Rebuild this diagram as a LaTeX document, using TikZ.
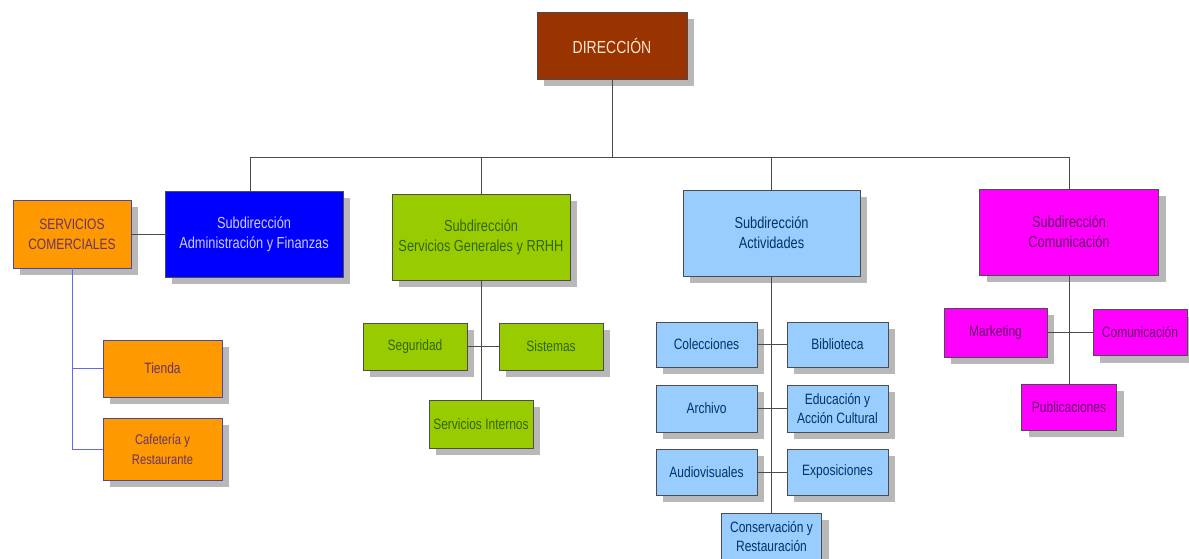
\documentclass[tikz,border=0pt]{standalone}
\usepackage{fontspec}
\setmainfont[FakeStretch=0.8]{Liberation Sans}
\usetikzlibrary{shadows}
\definecolor{cDir}{HTML}{993300}
\definecolor{cDirT}{HTML}{FFE6D0}
\definecolor{cAdm}{HTML}{0000FF}
\definecolor{cAdmT}{HTML}{CCCCFF}
\definecolor{cOra}{HTML}{FF9900}
\definecolor{cOraT}{HTML}{663366}
\definecolor{cGre}{HTML}{99CC00}
\definecolor{cGreT}{HTML}{336600}
\definecolor{cLbl}{HTML}{99CCFF}
\definecolor{cLblT}{HTML}{003366}
\definecolor{cMag}{HTML}{FF00FF}
\definecolor{cMagT}{HTML}{660066}
\definecolor{cLine}{HTML}{4A4A4A}
\definecolor{cPur}{HTML}{6666EE}
\definecolor{cShad}{HTML}{B8B8B8}
\tikzset{
  box/.style={draw=#1, line width=0.9pt, align=center, inner sep=0pt,
    drop shadow={shadow xshift=7pt, shadow yshift=-7pt, fill=cShad, opacity=1}},
  sz/.style 2 args={minimum width=#1pt, minimum height=#2pt},
  big/.style={font=\fontsize{16}{20}\selectfont},
  small/.style={font=\fontsize{15}{19}\selectfont},
  dirbox/.style={box=black!70, fill=cDir, text=cDirT, font=\fontsize{17.5}{20}\selectfont},
  admbox/.style={box=black!70, fill=cAdm, text=cAdmT, big},
  orabox/.style={box=cPur!70!black, fill=cOra, text=cOraT, small},
  grebox/.style={box=black!70, fill=cGre, text=cGreT, big},
  lblbox/.style={box=black!70, fill=cLbl, text=cLblT, big},
  magbox/.style={box=black!70, fill=cMag, text=cMagT, big},
  conn/.style={draw=cLine, line width=0.9pt},
  pconn/.style={draw=cPur, line width=0.9pt}
}
\begin{document}
\begin{tikzpicture}[x=1pt,y=-1pt]
\useasboundingbox[fill=white] (0,0) rectangle (1189,559);
% top
\node[dirbox, sz={150}{67}] (dir) at (612,45.5) {DIRECCIÓN};
% level 2
\node[orabox, sz={118}{68}, font=\fontsize{15}{20}\selectfont] (serv) at (72,234) {SERVICIOS\\COMERCIALES};
\node[admbox, sz={178}{86}] (adm) at (254,234) {Subdirección\\Administración y Finanzas};
\node[grebox, sz={178}{86}] (gen) at (481,237) {Subdirección\\Servicios Generales y RRHH};
\node[lblbox, sz={177}{86}] (act) at (771.5,233) {Subdirección\\Actividades};
\node[magbox, sz={179}{86}] (com) at (1069,232) {Subdirección\\Comunicación};
% servicios comerciales
\node[orabox, sz={119}{57}] (tienda) at (162.5,368.5) {Tienda};
\node[orabox, sz={119}{62}, font=\fontsize{14}{20}\selectfont] (cafe) at (162.5,449) {Cafetería y\\Restaurante};
% servicios generales
\node[grebox, sz={104}{47}, small] (seg) at (415,346.5) {Seguridad};
\node[grebox, sz={104}{47}, small] (sis) at (551,346.5) {Sistemas};
\node[grebox, sz={104}{48}, small] (int) at (481,424) {Servicios Internos};
% actividades
\node[lblbox, sz={101}{45}, small] (col) at (706.5,344.5) {Colecciones};
\node[lblbox, sz={101}{45}, small] (bib) at (837.5,344.5) {Biblioteca};
\node[lblbox, sz={101}{47}, small] (arc) at (706.5,408.5) {Archivo};
\node[lblbox, sz={101}{47}, small] (edu) at (837.5,408.5) {Educación y\\Acción Cultural};
\node[lblbox, sz={101}{46}, small] (aud) at (706.5,472) {Audiovisuales};
\node[lblbox, sz={101}{46}, small] (exp) at (837.5,472) {Exposiciones};
\node[lblbox, sz={100}{48}, small] (con) at (771.5,537) {Conservación y\\Restauración};
% comunicacion
\node[magbox, sz={103}{49}, small] (mkt) at (995.5,332.5) {Marketing};
\node[magbox, sz={94}{46}, small] (com2) at (1140,332.5) {Comunicación};
\node[magbox, sz={95}{46}, small] (pub) at (1069,407) {Publicaciones};
% connectors
\coordinate (barL) at (250,157);
\coordinate (barR) at (1069,157);
\coordinate (b2) at (481,157);
\coordinate (b3) at (771.5,157);
\coordinate (b0) at (612,157);
\draw[conn] (dir.south) -- (b0);
\draw[conn] (barL) -- (barR);
\draw[conn] (barL) -- (barL |- adm.north);
\draw[conn] (b2) -- (gen.north);
\draw[conn] (b3) -- (act.north);
\draw[conn] (barR) -- (com.north);
\draw[conn] (serv.east) -- (adm.west);
\draw[pconn] (serv.south) -- (serv.south |- cafe.west) -- (cafe.west);
\draw[pconn] (serv.south |- tienda.west) -- (tienda.west);
\draw[conn] (gen.south) -- (int.north);
\draw[conn] (seg.east) -- (sis.west);
\draw[conn] (act.south) -- (con.north);
\draw[conn] (col.east) -- (bib.west);
\draw[conn] (arc.east) -- (edu.west);
\draw[conn] (aud.east) -- (exp.west);
\draw[conn] (com.south) -- (pub.north);
\draw[conn] (mkt.east) -- (com2.west);
\end{tikzpicture}
\end{document}
